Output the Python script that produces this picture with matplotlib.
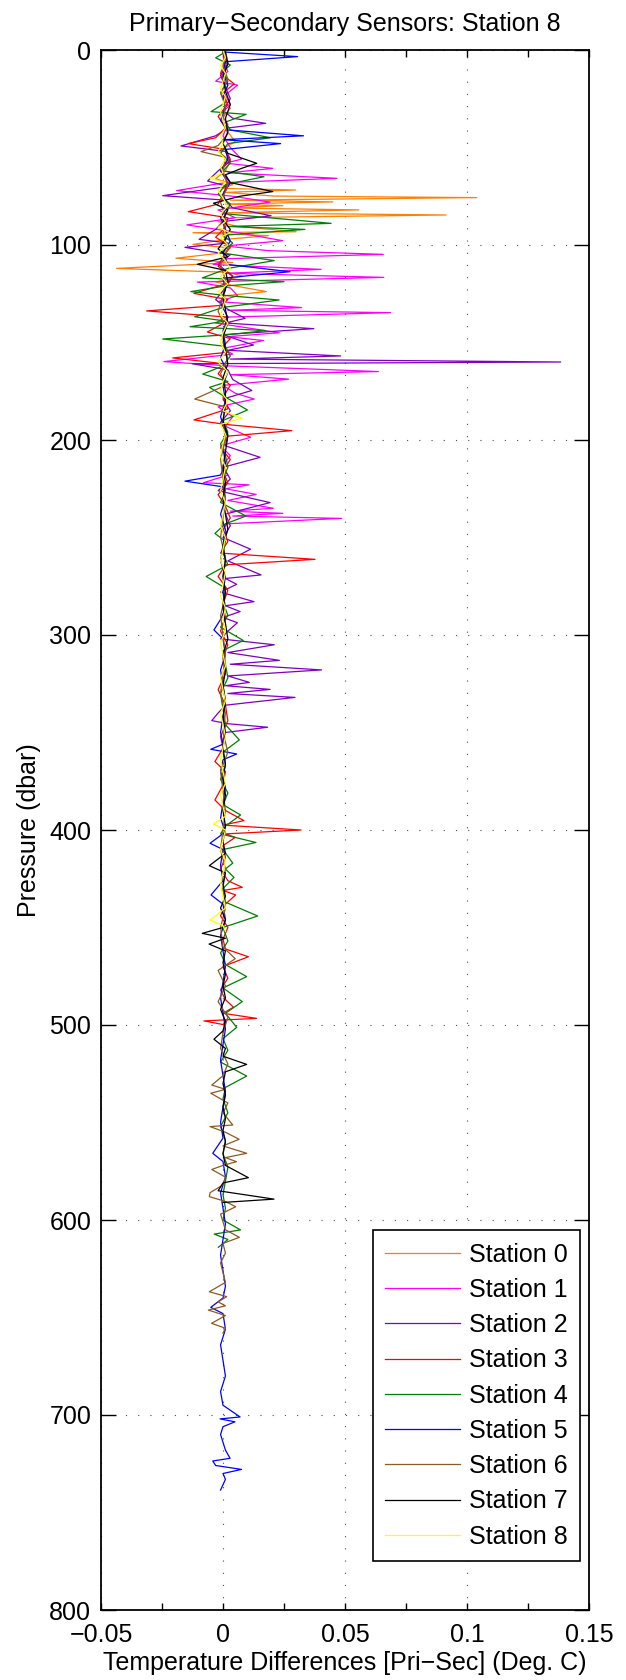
import matplotlib
matplotlib.use('Agg')
import matplotlib.pyplot as plt

plt.rcParams['font.family'] = ['Liberation Sans', 'DejaVu Sans']

# Station 0 (orange)
p0 = [1, 6, 12, 18, 24, 30, 36, 42, 47, 52, 57, 62, 66, 69, 71, 71.8, 73, 74.9, 75.7, 77,
      77.9, 79, 79.8, 81, 82, 83.5, 84.6, 86, 88, 90.5, 93.2, 93.7, 95.2, 97, 99.7, 101.5,
      104, 106.8, 109, 112, 114, 116, 119, 121, 123.9, 126, 129]
t0 = [0.001, 0.002, -0.001, 0.002, 0.000, 0.003, -0.001, 0.002, 0.005, -0.002, 0.003, 0.001,
      -0.003, 0.004, 0.000, 0.0297, 0.001, 0.0206, 0.104, 0.003, 0.045, 0.001, 0.0245, 0.002,
      0.0557, 0.000, 0.0914, 0.004, -0.002, 0.006, 0.030, -0.0123, 0.0186, 0.002, -0.0123,
      0.003, 0.000, -0.0193, 0.004, -0.0436, 0.002, 0.008, -0.003, 0.005, 0.0178, 0.001, 0.000]

# Station 1 (magenta)
p1 = [1, 6, 11, 16, 18, 23, 28, 33, 38, 44, 50, 56, 58, 60.7, 63, 65.8, 68, 72.1, 75, 78,
      82, 86, 89.7, 93, 97.8, 100.5, 102.9, 104.8, 107, 110, 112.5, 114.5, 116.6, 119, 122,
      126, 129, 132.1, 133.5, 134.7, 137, 140, 145, 147, 149, 153, 156, 159.8, 162, 164.9,
      166.5, 168.8, 172, 176, 179, 183, 188, 193, 198.6, 203, 208, 213, 218, 221.9, 223, 225,
      227.9, 231, 235, 236.5, 237.6, 239, 240.2, 243, 247]
t1 = [0.001, 0.000, 0.002, -0.003, 0.006, 0.001, 0.003, -0.001, 0.002, 0.000, 0.003, 0.0076,
      0.001, 0.0204, 0.002, 0.0467, 0.001, -0.019, 0.004, 0.0193, -0.002, 0.005, -0.0148,
      0.003, 0.0245, 0.001, 0.0186, 0.0657, 0.002, -0.004, 0.0402, 0.001, 0.0659, -0.0105,
      0.003, 0.006, -0.002, 0.0322, 0.002, 0.0687, 0.001, -0.003, 0.0231, 0.002, 0.0166,
      0.000, 0.004, -0.0242, 0.002, 0.0637, 0.003, 0.0269, 0.000, 0.005, 0.0128, -0.002,
      0.004, 0.001, 0.0113, -0.001, 0.003, 0.000, 0.002, -0.008, 0.0107, 0.001, 0.0136,
      0.002, 0.0206, 0.003, 0.0245, 0.004, 0.0486, 0.001, 0.000]

# Station 2 (purple)
p2 = [1, 7, 13, 19, 25, 31, 35, 37.6, 40, 44, 49.2, 52, 57, 62, 67.2, 70, 74.7, 77, 81, 85,
      88, 92, 97.1, 99, 101.2, 105, 110, 116, 122, 128, 133, 137.6, 140, 142.9, 146, 151.3,
      154, 156.9, 158.5, 160, 160.9, 164, 169, 174.6, 179, 185, 191, 197, 203, 208.9, 214,
      220, 226, 232.1, 238, 244, 250, 256, 262, 269.2, 271, 274, 278, 282.9, 285, 288, 291,
      293.7, 298, 302, 305, 309, 313, 315, 317.9, 321, 324.3, 326, 327.9, 330, 332, 336,
      340, 343.9, 345.5, 347.3, 350, 354]
t2 = [0.000, 0.002, -0.001, 0.001, 0.003, 0.000, 0.004, 0.0175, 0.002, -0.003, -0.0172,
      0.001, 0.003, -0.002, -0.0063, 0.002, -0.0247, 0.001, 0.004, 0.0197, 0.000, -0.003,
      -0.0098, 0.002, -0.0156, 0.003, -0.002, 0.004, 0.001, -0.003, 0.002, 0.0091, 0.001,
      0.0372, 0.000, 0.0125, 0.002, 0.0482, 0.003, 0.1384, -0.0126, 0.002, 0.004, 0.0118,
      0.000, 0.003, -0.001, 0.002, 0.001, 0.0152, 0.000, 0.003, -0.002, 0.0193, 0.001, 0.003,
      0.000, 0.0113, 0.002, 0.0156, 0.001, 0.0056, -0.001, 0.0127, 0.001, 0.007, 0.000,
      0.0059, 0.002, -0.001, 0.021, 0.002, 0.0231, 0.003, 0.0404, 0.002, 0.0108, 0.001,
      0.0193, 0.002, 0.0295, 0.001, -0.002, -0.0046, 0.002, 0.0183, 0.001, 0.000]

# Station 3 (red)
p3 = [1, 6, 12, 17.4, 22, 28, 34, 40, 45, 48, 51, 56, 62, 68, 74, 79, 82.9, 86, 91, 96,
      101, 106, 111, 116, 120, 124.8, 128, 131, 133.8, 137, 141, 144.6, 148, 152, 155,
      157.9, 161, 166, 172, 178, 184, 189.7, 192, 195.2, 198, 204, 210, 216, 222, 228, 234,
      240, 246, 252, 258, 261.2, 264, 270, 277, 284, 291, 298, 305, 312, 320, 328, 336, 344,
      352, 358, 364.9, 370, 377, 384.6, 390, 395.2, 397.5, 400, 402, 403.8, 408, 414, 420,
      426, 429.4, 431, 433.3, 438, 444, 450, 456, 461, 465, 470, 476, 482, 487, 490.9, 494,
      496.6, 497.9, 500, 504]
t3 = [0.000, 0.001, -0.001, 0.0046, 0.000, 0.002, -0.002, 0.001, -0.003, -0.0142, 0.001,
      0.003, -0.001, 0.002, 0.000, -0.002, -0.0142, 0.002, 0.001, -0.003, 0.003, 0.000,
      -0.002, 0.004, 0.001, -0.0119, 0.002, -0.001, -0.0313, 0.002, -0.001, -0.0064, 0.003,
      0.000, 0.002, -0.0206, 0.001, -0.002, 0.003, 0.000, 0.002, -0.0119, 0.001, 0.0282,
      0.002, -0.001, 0.003, 0.000, 0.002, -0.002, 0.001, 0.003, 0.000, 0.002, -0.001, 0.0377,
      0.001, -0.002, 0.002, 0.000, 0.001, -0.001, 0.002, 0.000, 0.001, -0.002, 0.001, 0.002,
      -0.001, 0.000, -0.0033, 0.001, 0.000, -0.0033, 0.001, 0.0086, 0.000, 0.032, 0.001,
      0.005, 0.000, 0.001, -0.001, 0.002, 0.0079, 0.000, 0.0052, 0.001, -0.001, 0.002, 0.000,
      0.001, 0.0104, 0.000, 0.002, -0.001, 0.001, 0.0043, 0.000, 0.0138, -0.0078, 0.001, 0.000]

# Station 4 (green)
p4 = [1, 4, 7.7, 11, 16, 22, 27, 31.6, 33, 37, 41, 45, 48, 53, 58, 62, 65, 69, 74, 79, 84,
      88.9, 90.5, 92, 95, 99, 104, 108, 112, 116.9, 118.8, 121, 123.9, 126, 128.2, 132,
      136.8, 139, 141.9, 143.9, 146, 148.2, 152, 157, 162, 166.2, 170, 173, 178, 184.6, 190,
      196, 202, 208, 214, 220, 226, 232, 239, 243, 247.9, 252, 258, 264, 270, 276, 283, 290,
      296, 302.8, 308, 315, 322, 330, 338, 346, 353.8, 360, 367, 374, 381, 387, 392.3, 398,
      402, 406.4, 410, 417, 420, 424.3, 430, 437, 444.1, 450, 457, 463, 469, 475.2, 481, 488,
      494, 501.2, 507, 513, 519, 526.2, 532, 538, 545, 552, 559, 566, 573, 580, 587, 594,
      600, 605.1, 607.2, 610, 614]
t4 = [0.001, -0.003, 0.003, 0.000, 0.002, -0.001, 0.001, -0.0049, 0.0095, 0.001, 0.003,
      0.0195, 0.002, -0.001, 0.003, 0.000, 0.0168, 0.001, -0.002, 0.003, 0.001, 0.0443,
      0.002, 0.0336, 0.000, 0.004, -0.001, 0.021, 0.002, -0.0085, 0.025, 0.001, -0.0132,
      0.002, 0.023, 0.000, -0.0116, 0.001, -0.0135, 0.0175, 0.002, -0.0247, 0.001, 0.003,
      0.000, -0.0083, 0.002, -0.0055, 0.001, 0.010, 0.000, 0.002, -0.001, 0.001, 0.002,
      0.000, 0.001, -0.001, 0.0094, 0.001, -0.0033, 0.001, 0.000, 0.002, -0.0069, 0.001,
      0.000, 0.002, -0.001, 0.0083, 0.000, 0.001, 0.002, -0.001, 0.000, 0.001, 0.0067, 0.000,
      0.001, -0.001, 0.002, 0.000, 0.0072, 0.001, -0.001, 0.0135, 0.000, 0.004, 0.001,
      0.0045, 0.000, 0.001, 0.0142, 0.000, 0.002, -0.001, 0.001, 0.0097, 0.000, 0.0079,
      0.001, 0.0056, 0.000, 0.002, -0.001, 0.0097, 0.001, 0.000, 0.002, -0.001, 0.001, 0.000,
      0.002, 0.001, 0.000, 0.001, 0.000, 0.0072, -0.0036, 0.002, -0.0019]

# Station 5 (blue)
p5 = [1, 3.4, 6, 12, 18, 24, 30, 36, 41, 44, 46, 48, 51, 56, 62, 68, 74, 80, 86, 92, 98,
      104, 110, 113.7, 117, 123, 130, 137, 144, 151, 158, 165, 172, 180, 188, 196, 204, 212,
      218, 221.1, 224, 230, 238, 246, 254, 262, 270, 278, 286, 292, 297.4, 302, 310, 318,
      326, 334, 342, 350, 356, 358.6, 361, 364, 370, 378, 386, 394, 401, 406.8, 410, 418,
      426, 433.3, 438, 446, 454, 462, 470, 478, 486, 494, 502, 510, 518, 526, 534, 542, 550,
      558, 565.8, 570, 578, 586, 594, 602, 610, 618, 626, 634, 640, 644.8, 648, 656, 664,
      672, 680, 688, 695, 701, 702, 703.5, 706, 710, 714, 718, 722.2, 723.6, 725.9, 727.9,
      730, 733, 738.5]
t5 = [0.000, 0.0306, 0.001, 0.000, 0.002, 0.000, 0.001, -0.001, 0.002, 0.033, 0.000,
      0.0236, 0.001, 0.002, -0.001, 0.003, 0.000, 0.002, -0.001, 0.001, 0.003, 0.000, 0.002,
      0.0275, 0.000, 0.001, -0.001, 0.002, 0.000, 0.001, -0.001, 0.002, 0.000, 0.001, -0.001,
      0.001, 0.000, 0.001, -0.001, -0.0156, 0.000, 0.001, -0.001, 0.001, 0.000, -0.001,
      0.001, 0.000, 0.001, -0.001, -0.0037, 0.000, 0.001, -0.001, 0.000, 0.001, 0.000,
      -0.001, 0.000, -0.005, 0.0056, 0.000, -0.001, 0.001, 0.000, -0.001, 0.001, -0.0053,
      0.000, -0.001, 0.000, -0.0049, 0.000, 0.001, -0.001, 0.000, 0.001, 0.000, -0.001,
      0.000, 0.001, 0.000, -0.001, 0.000, 0.001, 0.000, -0.001, 0.000, -0.0042, 0.000, 0.001,
      -0.001, 0.000, 0.001, 0.000, -0.001, 0.000, 0.001, 0.000, -0.005, 0.000, 0.001, -0.001,
      0.000, 0.001, -0.001, 0.000, 0.007, -0.0012, 0.0049, 0.000, -0.001, 0.000, 0.001,
      0.0029, -0.0042, -0.003, 0.0076, 0.000, 0.001, -0.001]

# Station 6 (brown)
p6 = [1, 8, 15, 22, 29, 36, 43, 49, 52.1, 55, 62, 70, 78, 86, 94, 102, 110, 118, 126, 134,
      142, 150, 158, 166, 172, 179, 183, 190, 200, 210, 220, 230, 240, 250, 260, 270, 280,
      290, 300, 310, 320, 330, 340, 350, 360, 370, 380, 390, 400, 410, 420, 430, 440, 450,
      460, 466, 472, 480, 488, 496, 504, 512, 520, 526, 530.8, 533, 535, 540, 545, 551.3,
      552.1, 555, 558.6, 562, 565.8, 568, 570.1, 572, 574.1, 578, 582, 586, 588, 590.5,
      593.2, 597, 601, 605, 608.9, 612, 617, 622, 627, 632, 636.8, 639.3, 642, 644, 646.2,
      649, 653, 655.5, 658]
t6 = [0.001, 0.000, 0.002, -0.001, 0.001, 0.000, 0.002, -0.002, -0.009, 0.001, 0.000,
      0.002, -0.001, 0.001, 0.000, 0.002, -0.001, 0.001, 0.000, -0.002, 0.001, 0.000, 0.002,
      -0.001, 0.001, -0.0116, 0.001, 0.000, 0.001, -0.001, 0.000, 0.001, 0.000, -0.001,
      0.001, 0.000, 0.001, -0.001, 0.000, 0.001, 0.000, -0.001, 0.001, 0.000, 0.002, -0.001,
      0.000, 0.001, 0.000, -0.001, 0.001, 0.000, 0.001, -0.001, 0.000, 0.005, -0.002, 0.001,
      -0.002, 0.002, 0.000, -0.001, 0.002, 0.000, -0.0046, 0.001, -0.005, 0.002, 0.000,
      0.004, -0.0053, 0.001, 0.0066, 0.000, 0.0097, 0.001, 0.0055, 0.000, -0.0046, 0.001,
      0.000, -0.0053, -0.0056, 0.001, 0.0052, -0.001, 0.000, 0.001, 0.0067, 0.000, 0.001,
      -0.001, 0.000, 0.001, -0.0056, 0.0015, -0.002, 0.001, -0.006, 0.001, -0.0047, 0.001,
      0.000]

# Station 7 (black)
p7 = [1, 7, 14, 21, 28, 35, 42, 48, 53, 58.1, 60.7, 64, 68, 72.6, 75, 78.6, 82, 87, 92, 97,
      102, 106, 109.9, 113, 119, 126, 133, 140, 147, 154, 161, 168, 175, 182, 190, 198, 206,
      214, 222, 230, 238, 246, 254, 262, 270, 278, 286, 294, 302, 310, 318, 326, 334, 342,
      350, 358, 366, 374, 382, 390, 398, 406, 412, 418.3, 422, 428, 434, 440, 446, 450, 453,
      455.5, 458.5, 462, 468, 474, 480, 486, 492, 498, 503, 507.3, 512, 516, 520.2, 524, 530,
      536, 542, 548, 554, 560, 566, 572, 578.3, 581, 585, 589.3, 591]
t7 = [0.001, 0.002, 0.000, 0.001, 0.003, 0.001, 0.002, 0.000, 0.002, 0.0138, 0.0076, 0.001,
      0.003, 0.0204, 0.0069, -0.0039, 0.002, 0.000, 0.003, 0.001, -0.002, 0.002, -0.0105,
      0.001, 0.002, 0.000, 0.001, 0.002, 0.000, 0.001, 0.002, 0.000, 0.001, 0.001, 0.000,
      0.002, 0.001, 0.000, 0.001, 0.000, 0.001, 0.002, 0.000, 0.001, 0.000, 0.001, 0.000,
      0.001, 0.002, 0.000, 0.001, 0.000, 0.001, 0.000, 0.001, 0.000, 0.001, 0.000, 0.001,
      0.000, 0.001, 0.000, 0.001, -0.0056, 0.001, 0.000, 0.001, -0.001, 0.001, 0.000,
      -0.0085, 0.001, -0.0057, 0.001, 0.000, 0.001, 0.000, 0.001, -0.001, 0.001, 0.000,
      -0.0037, 0.001, 0.000, 0.0097, 0.001, 0.000, 0.001, 0.000, 0.001, 0.000, 0.001, 0.000,
      0.001, 0.0104, 0.000, -0.002, 0.0209, 0.000]

# Station 8 (yellow)
p8 = [0, 4, 8, 12, 16, 20, 24, 28, 32, 36, 40, 44, 48, 52, 56, 60, 63, 65.8, 68, 72, 76, 80,
      84, 88, 91, 93.7, 96, 100, 104, 108, 112, 116, 120, 124, 128, 132, 136, 140, 145, 150,
      155, 160, 165, 170, 175, 180, 185, 188.8, 192, 197, 202, 208, 214, 220, 226, 232, 238,
      244, 250, 256, 262, 268, 274, 280, 286, 292, 298, 304, 310, 316, 322, 328, 334, 340,
      346, 352, 358, 364, 370, 376, 382, 388, 393, 396.9, 400, 405, 410, 416, 422, 428, 434,
      440, 443, 446.2, 449, 452]
t8 = [0.000, 0.001, -0.001, 0.001, 0.000, -0.001, 0.001, 0.000, -0.001, 0.000, 0.001,
      -0.001, 0.000, -0.002, 0.001, -0.001, 0.000, -0.0053, 0.001, -0.002, 0.000, 0.002,
      -0.001, 0.001, -0.002, 0.0029, -0.001, 0.002, -0.002, 0.001, 0.003, -0.001, 0.002,
      -0.002, 0.001, 0.000, -0.001, 0.002, 0.000, -0.001, 0.001, -0.002, 0.002, 0.000,
      -0.001, 0.002, 0.000, 0.0077, -0.001, 0.001, 0.000, -0.001, 0.001, 0.000, -0.001,
      0.001, 0.000, -0.001, 0.001, 0.000, -0.001, 0.001, 0.000, -0.001, 0.001, 0.000, 0.001,
      -0.001, 0.000, 0.001, -0.001, 0.000, 0.001, -0.001, 0.000, 0.001, 0.000, -0.001, 0.000,
      0.001, -0.001, 0.000, 0.001, -0.0039, 0.001, 0.000, -0.001, 0.001, 0.000, -0.001,
      0.000, 0.001, -0.002, -0.0053, 0.000, 0.001]

pressures = [p0, p1, p2, p3, p4, p5, p6, p7, p8]
temps = [t0, t1, t2, t3, t4, t5, t6, t7, t8]
labels = ['Station %d' % i for i in range(9)]
colors = ['#ff7f00', '#ff00ff', '#7f00bf', '#ff0000', '#007f00',
          '#0000ff', '#8c5a23', '#000000', '#ffff00']

xticks = [-0.05, 0, 0.05, 0.1, 0.15]
xticklabels = ['\u22120.05', '0', '0.05', '0.1', '0.15']
yticks = [0, 100, 200, 300, 400, 500, 600, 700, 800]

fig = plt.figure(figsize=(6.26, 16.8), dpi=100)
ax = fig.add_axes([101 / 626, 70 / 1680, 488 / 626, 1560 / 1680])

for p, t, c, lab in zip(pressures, temps, colors, labels):
    ax.plot(t, p, color=c, lw=0.9, label=lab)

ax.set_xlim(-0.05, 0.15)
ax.set_ylim(800, 0)
ax.set_xticks(xticks)
ax.set_xticklabels(xticklabels)
ax.set_xticks([-0.025, 0.025, 0.075, 0.125], minor=True)
ax.set_yticks(yticks)

# matlab-ish look
ax.tick_params(which='both', direction='in', top=True, right=True, labelsize=18)
ax.tick_params(axis='x', which='both', length=5, width=1, pad=9)
ax.tick_params(axis='y', length=11, width=1, pad=7)
for s in ax.spines.values():
    s.set_linewidth(1.3)
ax.grid(True, which='major', color='0.3', linestyle=(0, (1, 10)), lw=0.8)

ax.set_title('Primary\u2212Secondary Sensors: Station 8', fontsize=18, pad=14)
ax.set_xlabel('Temperature Differences [Pri\u2212Sec] (Deg. C)', fontsize=18, labelpad=3)
ax.set_ylabel('Pressure (dbar)', fontsize=18, labelpad=6)

leg = ax.legend(loc='lower right', bbox_to_anchor=(0.9816, 0.0314), borderaxespad=0,
                fontsize=18, fancybox=False, framealpha=1, edgecolor='black',
                handlelength=3.0, handletextpad=0.35, labelspacing=0.45, borderpad=0.5)
leg.get_frame().set_linewidth(1.2)

plt.savefig('out.png', dpi=100)
